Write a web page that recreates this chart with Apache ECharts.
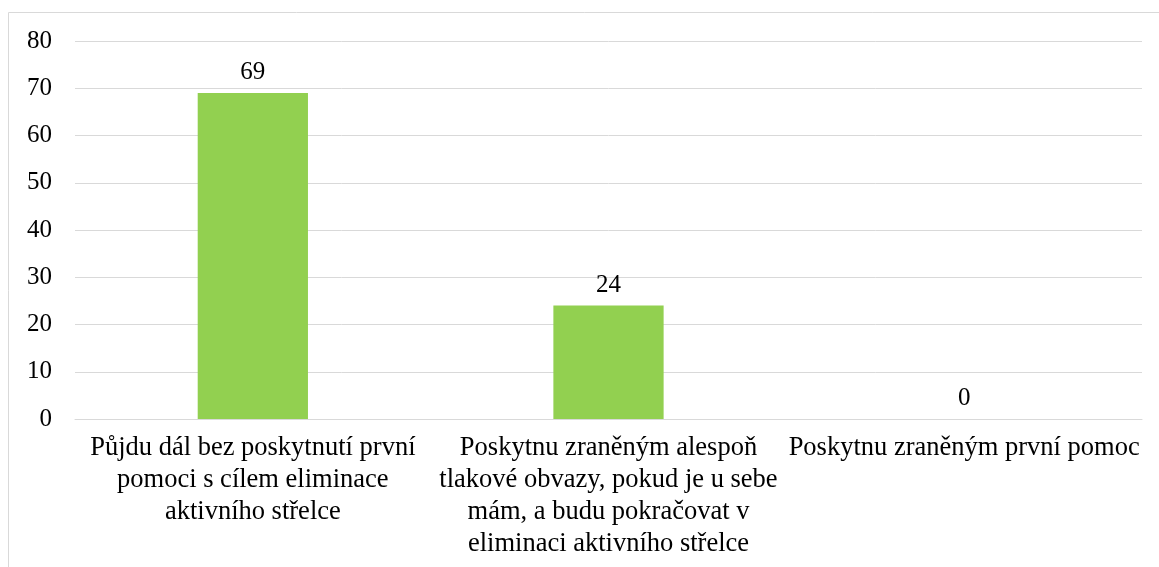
<!DOCTYPE html>
<html>
<head>
<meta charset="utf-8">
<script src="https://cdn.jsdelivr.net/npm/echarts@6/dist/echarts.min.js"></script>
<style>
  html, body { margin: 0; padding: 0; background: #fff; }
  #chart { width: 1159px; height: 567px; }
</style>
</head>
<body>
<div id="chart"></div>
<script>
const categories = [
  'Půjdu dál bez poskytnutí první\npomoci s cílem eliminace\naktivního střelce',
  'Poskytnu zraněným alespoň\ntlakové obvazy, pokud je u sebe\nmám, a budu pokračovat v\neliminaci aktivního střelce',
  'Poskytnu zraněným první pomoc'
]
const values = [69, 24, 0]

const font = '"Liberation Serif", "Times New Roman", serif'
const chart = echarts.init(document.getElementById('chart'))
const option = {
  animation: false,
  textStyle: { fontFamily: font },
  graphic: [{
    type: 'rect',
    shape: { x: 8.5, y: 12.5, width: 1200, height: 600 },
    style: { fill: 'none', stroke: '#d9d9d9', lineWidth: 1 },
    silent: true
  }],
  grid: {
    left: 75,
    right: 17,
    top: 41,
    bottom: 148
  },
  xAxis: {
    type: 'category',
    data: categories,
    axisLine: { lineStyle: { color: '#d9d9d9' } },
    axisTick: { show: false },
    axisLabel: {
      interval: 0,
      color: '#000',
      fontFamily: font,
      fontSize: 26.5,
      lineHeight: 32,
      margin: 13
    }
  },
  yAxis: {
    type: 'value',
    min: 0,
    max: 80,
    interval: 10,
    axisLine: { show: false },
    axisTick: { show: false },
    splitLine: { lineStyle: { color: '#d9d9d9', width: 1 } },
    axisLabel: {
      color: '#000',
      fontFamily: font,
      fontSize: 25,
      margin: 23
    }
  },
  series: [{
    type: 'bar',
    data: values,
    barWidth: '31%',
    itemStyle: { color: '#92d050' },
    label: {
      show: true,
      position: 'top',
      distance: 8,
      color: '#000',
      fontFamily: font,
      fontSize: 25
    }
  }]
}
chart.setOption(option)
</script>
</body>
</html>
